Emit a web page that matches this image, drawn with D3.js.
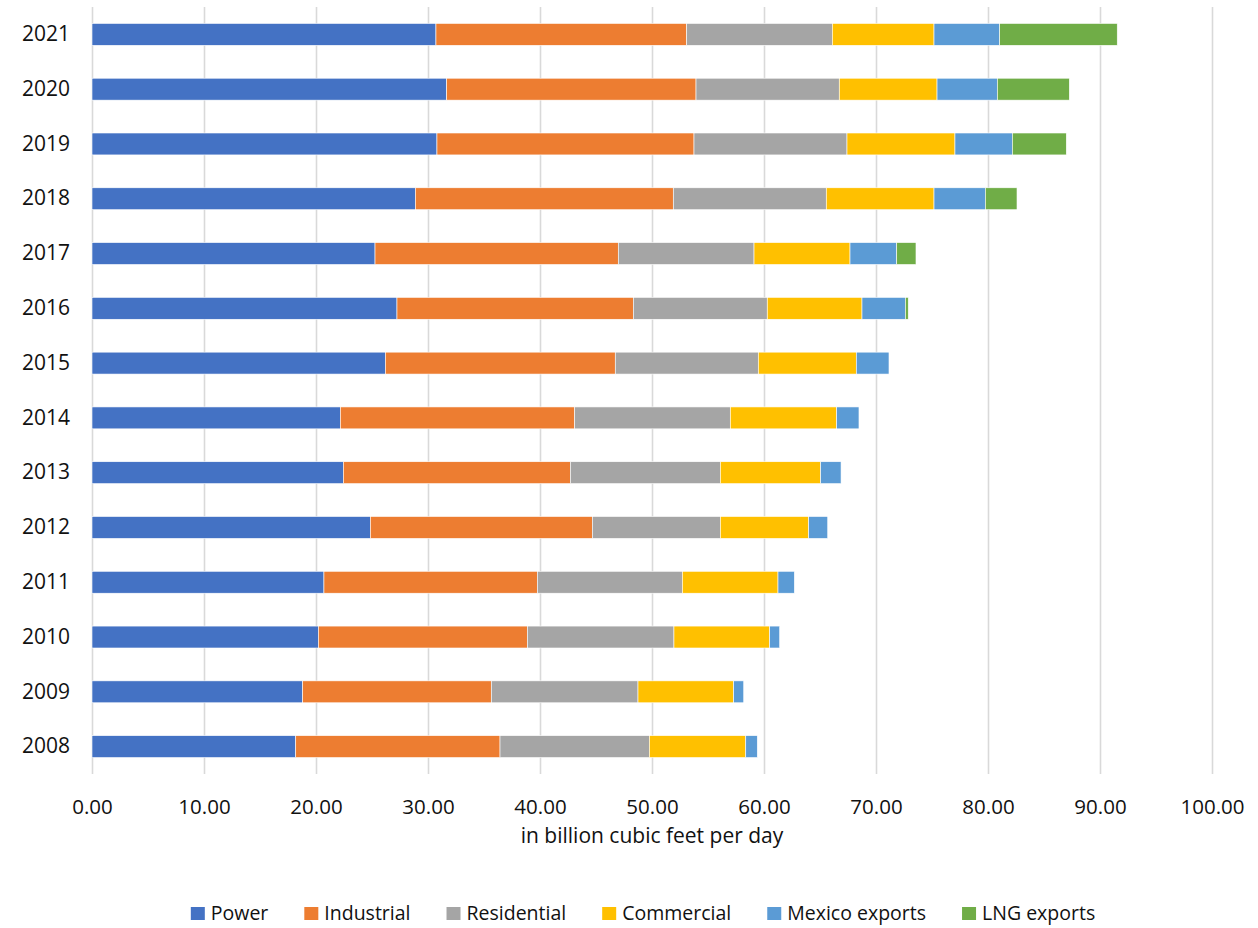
<!DOCTYPE html>
<html>
<head>
<meta charset="utf-8">
<script src="https://cdn.jsdelivr.net/npm/d3@7"></script>
<style>
  body { margin: 0; background: #fff; }
  text { font-family: "Open Sans", sans-serif; fill: #111; }
</style>
</head>
<body>
<div id="chart"></div>
<script>
// values, billion cubic feet per day
const years = ['2008', '2009', '2010', '2011', '2012', '2013', '2014', '2015', '2016', '2017', '2018', '2019', '2020', '2021'];
const power = [18.19, 18.81, 20.21, 20.71, 24.85, 22.44, 22.17, 26.19, 27.23, 25.27, 28.87, 30.80, 31.67, 30.71];
const industrial = [18.24, 16.84, 18.66, 19.05, 19.82, 20.27, 20.93, 20.53, 21.10, 21.72, 23.03, 22.95, 22.26, 22.39];
const residential = [13.33, 13.10, 13.09, 12.95, 11.43, 13.39, 13.89, 12.77, 11.96, 12.12, 13.66, 13.66, 12.79, 13.00];
const commercial = [8.61, 8.54, 8.55, 8.54, 7.89, 8.96, 9.50, 8.75, 8.46, 8.57, 9.62, 9.64, 8.73, 9.08];
const mexico = [1.03, 0.90, 0.89, 1.46, 1.70, 1.82, 1.99, 2.92, 3.87, 4.17, 4.58, 5.12, 5.38, 5.86];
const lng = [0, 0, 0, 0, 0, 0, 0, 0, 0.26, 1.72, 2.83, 4.82, 6.43, 10.50];
const seriesNames = ['Power', 'Industrial', 'Residential', 'Commercial', 'Mexico exports', 'LNG exports'];
const colors = ['#4472C4', '#ED7D31', '#A5A5A5', '#FFC000', '#5B9BD5', '#70AD47'];
const xTicks = [0, 10, 20, 30, 40, 50, 60, 70, 80, 90, 100];

const width = 1258;
const height = 928;
const margin = { top: 7, left: 92, right: 46, bottom: 155 };

const svg = d3.select('#chart')
  .append('svg')
  .attr('width', width)
  .attr('height', height);

const rows = years.map((y, i) => ({
  year: y,
  'Power': power[i],
  'Industrial': industrial[i],
  'Residential': residential[i],
  'Commercial': commercial[i],
  'Mexico exports': mexico[i],
  'LNG exports': lng[i]
}));

const stacked = d3.stack().keys(seriesNames)(rows);

const x = d3.scaleLinear()
  .domain([0, 100])
  .range([margin.left, width - margin.right]);

const y = d3.scaleBand()
  .domain(years.slice().reverse())
  .range([margin.top, height - margin.bottom + 1])
  .paddingInner(0.6)
  .paddingOuter(0.3);

const color = d3.scaleOrdinal().domain(seriesNames).range(colors);

const plotBottom = height - margin.bottom + 1;

// vertical gridlines
svg.append('g')
  .attr('transform', `translate(0,${plotBottom})`)
  .call(d3.axisBottom(x).tickValues(xTicks).tickSize(-(plotBottom - margin.top)).tickFormat(''))
  .call(g => g.select('.domain').remove())
  .call(g => g.selectAll('line').attr('stroke', '#d9d9d9').attr('stroke-width', 1.6));

// bars
svg.append('g')
  .selectAll('g')
  .data(stacked)
  .join('g')
    .attr('fill', d => color(d.key))
  .selectAll('rect')
  .data(d => d)
  .join('rect')
    .attr('x', d => x(d[0]))
    .attr('y', d => y(d.data.year))
    .attr('width', d => Math.max(0, x(d[1]) - x(d[0])))
    .attr('height', y.bandwidth())
    .attr('stroke', '#fff')
    .attr('stroke-width', 0.6);

// x tick labels
svg.append('g')
  .attr('transform', `translate(0,${plotBottom})`)
  .call(d3.axisBottom(x).tickValues(xTicks).tickSize(0).tickPadding(25).tickFormat(d3.format('.2f')))
  .call(g => g.select('.domain').remove())
  .call(g => g.selectAll('text').attr('font-size', '20.5px').attr('font-family', '"Open Sans", sans-serif').attr('fill', '#111'));

// year labels
svg.append('g')
  .attr('transform', 'translate(70,0)')
  .call(d3.axisLeft(y).tickSize(0).tickPadding(0))
  .call(g => g.select('.domain').remove())
  .call(g => g.selectAll('text').attr('font-size', '21px').attr('font-family', '"Open Sans", sans-serif').attr('fill', '#111'));

// axis title
svg.append('text')
  .attr('x', (x(0) + x(100)) / 2)
  .attr('y', 843)
  .attr('text-anchor', 'middle')
  .attr('font-size', '21px')
  .text('in billion cubic feet per day');

// legend
const legend = svg.append('g').attr('transform', 'translate(0,920)');
const items = legend.selectAll('g')
  .data(seriesNames)
  .join('g');

items.append('rect')
  .attr('width', 14)
  .attr('height', 13)
  .attr('y', -13)
  .attr('fill', d => color(d));

items.append('text')
  .attr('x', 20)
  .attr('font-size', '19.5px')
  .text(d => d);

const gap = 36;
let cursor = 0;
const offsets = [];
items.each(function () {
  offsets.push(cursor);
  const w = d3.select(this).select('text').node().getComputedTextLength();
  cursor += 20 + w + gap;
});
const total = cursor - gap;
const start = 643 - total / 2;
items.attr('transform', (d, i) => `translate(${start + offsets[i]},0)`);
</script>
</body>
</html>
